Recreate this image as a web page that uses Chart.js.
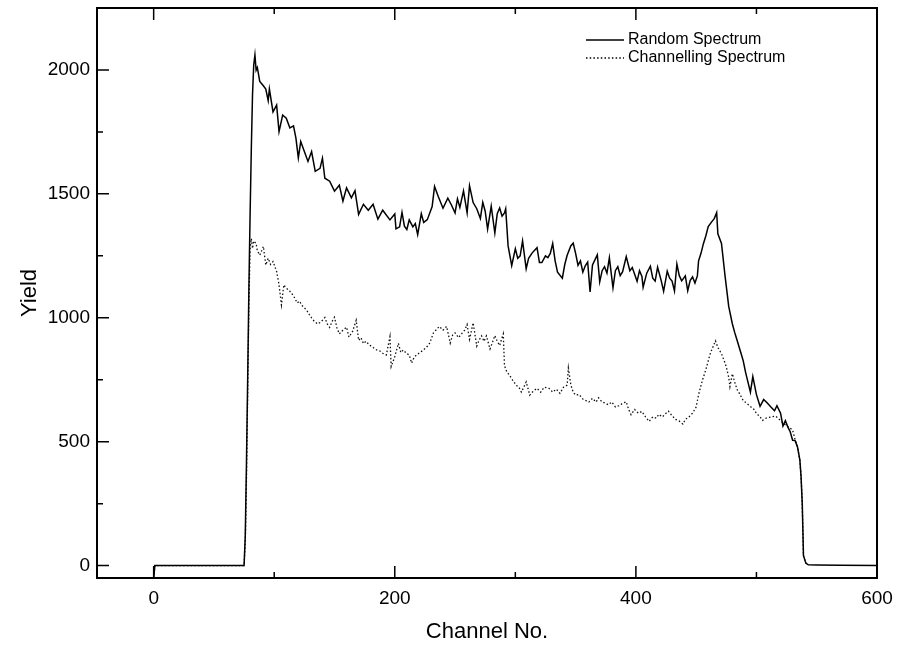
<!DOCTYPE html>
<html>
<head>
<meta charset="utf-8">
<script src="https://cdn.jsdelivr.net/npm/chart.js@4.4.0/dist/chart.umd.min.js"></script>
<style>
  html, body { margin: 0; padding: 0; background: #fff; }
  #wrap { width: 900px; height: 653px; }
</style>
</head>
<body>
<div id="wrap"><canvas id="spectrum" width="900" height="653"></canvas></div>
<script>
const seriesLabels = ['Random Spectrum', 'Channelling Spectrum'];

const xTickValues = [0, 100, 200, 300, 400, 500, 600];
const yTickValues = [0, 250, 500, 750, 1000, 1250, 1500, 1750, 2000];

// random spectrum (solid line)
const randomChannel = [0, 1, 40, 75, 76, 77, 78, 79, 80, 81, 82, 83, 84, 85, 86, 88, 91, 93, 95, 96, 99,
  102, 104, 107, 110, 113, 116, 118, 120, 122, 125, 128, 131, 134, 138, 140, 142, 146, 150, 154, 157,
  160, 164, 167, 170, 174, 178, 182, 186, 190, 196, 200, 201, 204, 206, 208, 210, 212, 215, 217, 219,
  222, 224, 227, 231, 233, 236, 240, 244, 247, 250, 252, 254, 257, 260, 262, 265, 268, 271, 273, 275,
  277, 280, 283, 285, 287, 289, 291, 292, 294, 297, 300, 302, 304, 306, 309, 311, 314, 318, 320, 322,
  325, 327, 329, 331, 333, 335, 339, 341, 343, 346, 348, 350, 352, 354, 356, 358, 360, 362, 364, 368,
  370, 372, 374, 376, 378, 381, 383, 385, 387, 389, 392, 395, 397, 401, 403, 405, 406, 409, 412, 414,
  416, 418, 421, 423, 426, 428, 430, 432, 434, 436, 438, 441, 443, 445, 447, 449, 451, 452, 454, 456,
  458, 460, 463, 465, 467, 468, 471, 474, 477, 480, 482, 484, 487, 489, 491, 495, 497, 500, 503, 506,
  509, 512, 515, 517, 520, 522, 524, 526, 528, 530, 532, 534, 536, 537, 538, 539, 541, 543, 550, 570, 600];
const randomYield = [-50, 0, 0, 0, 120, 420, 760, 1120, 1420, 1680, 1900, 2020, 2060, 1999, 2010, 1954, 1936, 1923, 1876, 1923, 1831,
  1858, 1751, 1818, 1805, 1766, 1774, 1725, 1645, 1711, 1671, 1631, 1671, 1591, 1603, 1644, 1563, 1551, 1511, 1535, 1471,
  1524, 1484, 1513, 1417, 1458, 1434, 1458, 1398, 1434, 1395, 1419, 1359, 1367, 1425, 1370, 1356, 1395, 1367, 1380, 1336,
  1420, 1385, 1396, 1449, 1530, 1490, 1442, 1483, 1455, 1423, 1480, 1445, 1512, 1424, 1533, 1465, 1440, 1401, 1466, 1430,
  1358, 1450, 1342, 1420, 1443, 1410, 1423, 1440, 1290, 1210, 1278, 1240, 1250, 1310, 1198, 1240, 1262, 1283, 1223, 1223,
  1250, 1243, 1260, 1300, 1230, 1184, 1160, 1215, 1252, 1290, 1301, 1260, 1212, 1230, 1184, 1210, 1225, 1104, 1213, 1254,
  1145, 1190, 1206, 1180, 1242, 1121, 1190, 1206, 1170, 1186, 1247, 1190, 1203, 1147, 1190, 1167, 1123, 1180, 1208, 1160,
  1148, 1204, 1150, 1107, 1188, 1160, 1148, 1108, 1217, 1170, 1149, 1169, 1109, 1150, 1165, 1140, 1169, 1230, 1260, 1299,
  1330, 1368, 1388, 1400, 1424, 1339, 1300, 1167, 1046, 976, 940, 908, 860, 827, 780, 700, 763, 690, 643, 670,
  656, 640, 625, 645, 615, 563, 585, 560, 540, 506, 505, 480, 427, 360, 250, 40, 10, 3, 2, 1, 0];

// channelling spectrum (dotted line)
const channelChannel = [0, 1, 75, 76, 77, 78, 79, 80, 81, 82, 83, 85, 86, 88, 90, 91, 93, 95, 97, 99,
  102, 104, 106, 108, 110, 113, 115, 117, 119, 121, 123, 125, 127, 129, 131, 133, 136, 138, 140, 142,
  144, 146, 148, 150, 152, 154, 157, 160, 162, 165, 168, 170, 172, 174, 176, 179, 182, 185, 188, 190,
  193, 196, 197, 199, 200, 203, 205, 207, 210, 212, 214, 216, 218, 221, 224, 227, 229, 232, 235, 237,
  240, 243, 246, 248, 250, 253, 255, 258, 260, 262, 265, 268, 270, 272, 274, 276, 279, 281, 283, 285,
  287, 289, 290, 291, 293, 295, 297, 299, 301, 303, 305, 307, 309, 312, 315, 318, 321, 324, 328, 331,
  334, 337, 340, 343, 344, 346, 348, 350, 353, 356, 359, 361, 364, 367, 369, 372, 375, 377, 380, 383,
  386, 389, 392, 394, 396, 399, 402, 405, 408, 411, 414, 417, 419, 422, 425, 427, 430, 433, 436, 439,
  441, 444, 447, 450, 452, 455, 458, 460, 462, 464, 466, 468, 471, 473, 475, 477, 478, 480, 482, 484,
  486, 489, 492, 495, 498, 500, 503, 505, 508, 512, 516, 519, 522, 525, 528, 530, 532, 534, 536, 537,
  538, 539, 541, 543];
const channelYield = [-50, 0, 0, 100, 350, 700, 1050, 1280, 1320, 1280, 1310, 1300, 1270, 1253, 1275, 1288, 1213, 1240, 1215, 1227,
  1187, 1133, 1052, 1133, 1120, 1107, 1095, 1080, 1060, 1067, 1050, 1040, 1030, 1014, 1000, 987, 975, 981, 990, 1001,
  975, 961, 985, 1002, 960, 935, 950, 962, 922, 945, 990, 909, 920, 896, 905, 890, 880, 870, 865, 857,
  850, 924, 803, 830, 843, 897, 860, 870, 855, 850, 817, 840, 850, 860, 871, 885, 898, 938, 955, 965,
  950, 965, 898, 930, 939, 920, 933, 950, 973, 913, 980, 886, 910, 927, 905, 927, 874, 900, 928, 905,
  888, 920, 935, 807, 781, 770, 754, 740, 727, 720, 700, 720, 741, 688, 705, 715, 700, 720, 715, 700,
  712, 695, 720, 728, 797, 730, 700, 688, 690, 672, 665, 660, 675, 660, 677, 660, 655, 649, 660, 640,
  645, 655, 661, 630, 609, 630, 615, 622, 600, 582, 600, 595, 610, 600, 615, 623, 605, 590, 583, 571,
  590, 600, 615, 640, 690, 745, 790, 826, 860, 883, 907, 880, 855, 830, 802, 760, 722, 774, 740, 710,
  694, 666, 655, 642, 630, 614, 600, 586, 595, 600, 603, 590, 575, 565, 555, 547, 510, 480, 427, 360,
  250, 40, 10, 3];

const fontFamily = '"Liberation Sans", Arial, Helvetica, sans-serif';

function toPoints(xs, ys) {
    return xs.map((v, i) => ({ x: v, y: ys[i] }));
}

// box round the plot with inward ticks, like the original graph
const frameAndTicks = {
    id: 'frameAndTicks',
    afterDatasetsDraw(chart) {
        const { ctx, chartArea: a, scales } = chart;
        ctx.save();
        ctx.strokeStyle = '#000';
        ctx.lineWidth = 2;
        ctx.strokeRect(a.left, a.top, a.right - a.left, a.bottom - a.top);
        ctx.lineWidth = 1.5;
        ctx.beginPath();
        xTickValues.forEach(v => {
            const px = scales.x.getPixelForValue(v);
            const len = v % 200 === 0 ? 12 : 6;
            ctx.moveTo(px, a.bottom);
            ctx.lineTo(px, a.bottom - len);
            ctx.moveTo(px, a.top);
            ctx.lineTo(px, a.top + len);
        });
        yTickValues.forEach(v => {
            const py = scales.y.getPixelForValue(v);
            const len = v % 500 === 0 ? 12 : 6;
            ctx.moveTo(a.left, py);
            ctx.lineTo(a.left + len, py);
        });
        ctx.stroke();
        ctx.restore();
    }
};

// legend in the upper right corner of the plot
const cornerLegend = {
    id: 'cornerLegend',
    afterDraw(chart) {
        const { ctx, chartArea: a } = chart;
        ctx.save();
        ctx.font = '16px ' + fontFamily;
        ctx.fillStyle = '#000';
        ctx.textBaseline = 'middle';
        chart.data.datasets.forEach((ds, i) => {
            const y = a.top + 32 + i * 18;
            const x0 = a.right - 291;
            ctx.strokeStyle = '#000';
            ctx.lineWidth = ds.borderWidth;
            ctx.setLineDash(ds.borderDash || []);
            ctx.beginPath();
            ctx.moveTo(x0, y);
            ctx.lineTo(x0 + 38, y);
            ctx.stroke();
            ctx.setLineDash([]);
            ctx.fillText(ds.label, x0 + 42, y);
        });
        ctx.restore();
    }
};

const ctx = document.getElementById('spectrum').getContext('2d');

new Chart(ctx, {
    type: 'line',
    data: {
        datasets: [{
            label: seriesLabels[0],
            data: toPoints(randomChannel, randomYield),
            borderColor: '#000',
            borderWidth: 1.5,
            pointRadius: 0,
            tension: 0
        }, {
            label: seriesLabels[1],
            data: toPoints(channelChannel, channelYield),
            borderColor: '#111',
            borderWidth: 1.3,
            borderDash: [1.5, 2.2],
            pointRadius: 0,
            tension: 0
        }]
    },
    options: {
        responsive: false,
        animation: false,
        layout: { padding: { top: 8, right: 23, left: 0, bottom: 0 } },
        plugins: {
            legend: { display: false },
            tooltip: { enabled: false }
        },
        scales: {
            x: {
                type: 'linear',
                min: -47,
                max: 600,
                afterBuildTicks: scale => { scale.ticks = xTickValues.map(v => ({ value: v })); },
                afterFit: scale => {
                    scale.height = 75;
                    scale.paddingLeft = 0;
                    scale.paddingRight = 0;
                },
                grid: { display: false, drawTicks: false },
                border: { display: false },
                ticks: {
                    autoSkip: false,
                    maxRotation: 0,
                    padding: 9,
                    color: '#000',
                    font: { family: fontFamily, size: 19 },
                    callback: v => (v % 200 === 0 ? String(v) : '')
                },
                title: {
                    display: true,
                    text: 'Channel No.',
                    color: '#000',
                    font: { family: fontFamily, size: 22 },
                    padding: { top: 0, bottom: 8 }
                }
            },
            y: {
                type: 'linear',
                min: -50,
                max: 2250,
                afterBuildTicks: scale => { scale.ticks = yTickValues.map(v => ({ value: v })); },
                afterFit: scale => {
                    scale.width = 97;
                    scale.paddingTop = 0;
                    scale.paddingBottom = 0;
                },
                grid: { display: false, drawTicks: false },
                border: { display: false },
                ticks: {
                    autoSkip: false,
                    padding: 7,
                    color: '#000',
                    font: { family: fontFamily, size: 19 },
                    callback: v => (v % 500 === 0 ? String(v) : '')
                },
                title: {
                    display: true,
                    text: 'Yield',
                    color: '#000',
                    font: { family: fontFamily, size: 22 },
                    padding: { top: 17, bottom: 0 }
                }
            }
        }
    },
    plugins: [frameAndTicks, cornerLegend]
});
</script>
</body>
</html>
